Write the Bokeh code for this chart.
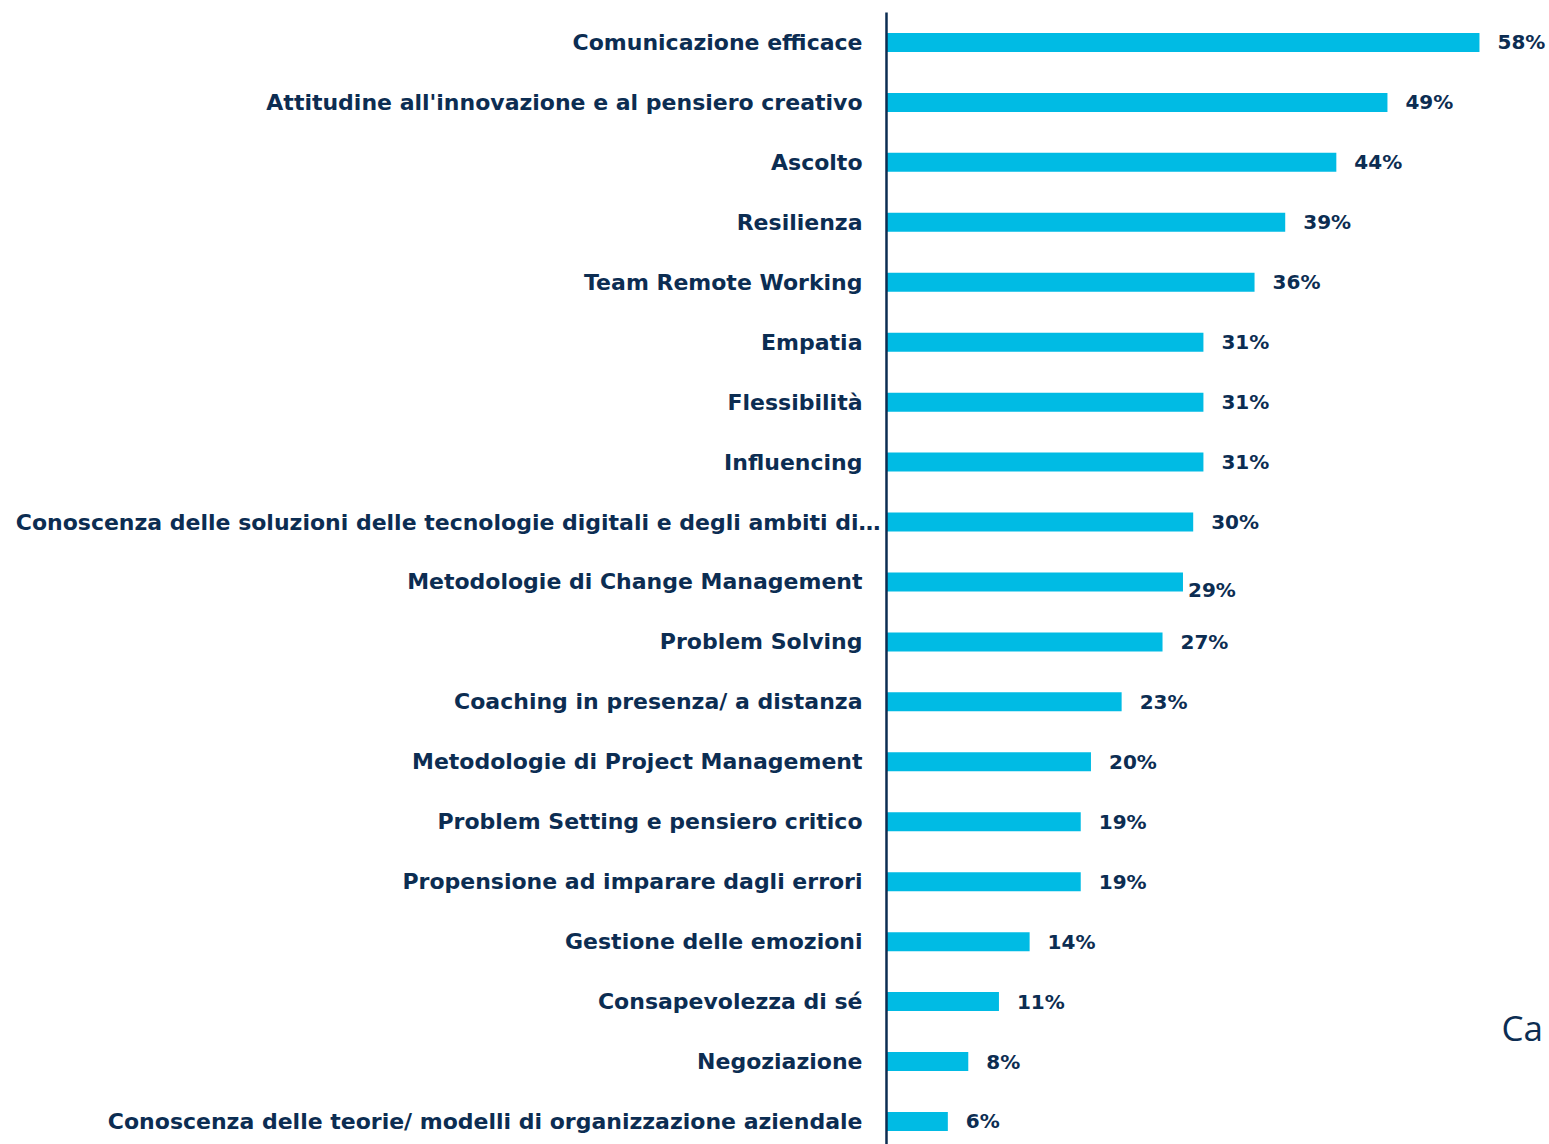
from bokeh.plotting import figure
from bokeh.models import ColumnDataSource, Range1d, Label
from bokeh.core.properties import value
from bokeh.embed import file_html
from bokeh.resources import INLINE

categories = [
    "Comunicazione efficace",
    "Attitudine all'innovazione e al pensiero creativo",
    "Ascolto",
    "Resilienza",
    "Team Remote Working",
    "Empatia",
    "Flessibilità",
    "Influencing",
    "Conoscenza delle soluzioni delle tecnologie digitali e degli ambiti di…",
    "Metodologie di Change Management",
    "Problem Solving",
    "Coaching in presenza/ a distanza",
    "Metodologie di Project Management",
    "Problem Setting e pensiero critico",
    "Propensione ad imparare dagli errori",
    "Gestione delle emozioni",
    "Consapevolezza di sé",
    "Negoziazione",
    "Conoscenza delle teorie/ modelli di organizzazione aziendale",
]
values = [58, 49, 44, 39, 36, 31, 31, 31, 30, 29, 27, 23, 20, 19, 19, 14, 11, 8, 6]
value_labels = [f"{v}%" for v in values]

BAR = "#00BBE4"
NAVY = "#0C2D52"
FONT = "DejaVu Sans"

n = len(categories)
ypos = [n - 1 - i for i in range(n)]
cat_xoff = [-6 if c.endswith("…") else -24 for c in categories]
val_xoff = [5 if c.startswith("Metodologie di Change") else 18 for c in categories]
val_yoff = [8 if c.startswith("Metodologie di Change") else 0 for c in categories]

src = ColumnDataSource(dict(y=ypos, v=values, cat=categories, lab=value_labels,
                            zero=[0] * n, cxo=cat_xoff, vxo=val_xoff, vyo=val_yoff))

p = figure(width=1549, height=1144, output_backend="svg", toolbar_location=None,
           x_range=Range1d(-86.66, 64.85), y_range=Range1d(-0.384, 18.70),
           min_border=0)
p.axis.visible = False
p.grid.visible = False
p.outline_line_color = None
p.background_fill_color = "white"

p.hbar(y="y", left=0, right="v", height=0.317, source=src, fill_color=BAR, line_color=None)

p.segment(x0=[0], y0=[-1], x1=[0], y1=[n - 0.5], line_color=NAVY, line_width=2.5)

p.text(x="zero", y="y", text="cat", source=src, x_offset="cxo",
       text_align="right", text_baseline="middle", text_color=NAVY,
       text_font=value(FONT), text_font_style="bold", text_font_size="22px")
p.text(x="v", y="y", text="lab", source=src, x_offset="vxo", y_offset="vyo",
       text_align="left", text_baseline="middle", text_color=NAVY,
       text_font=value(FONT), text_font_style="bold", text_font_size="20px")

p.add_layout(Label(x=1501, y=117, x_units="screen", y_units="screen", text="Ca",
                   text_font="Open Sans", text_font_size="35px", text_color=NAVY,
                   text_baseline="alphabetic"))

open("out.html", "w").write(file_html(p, INLINE))
